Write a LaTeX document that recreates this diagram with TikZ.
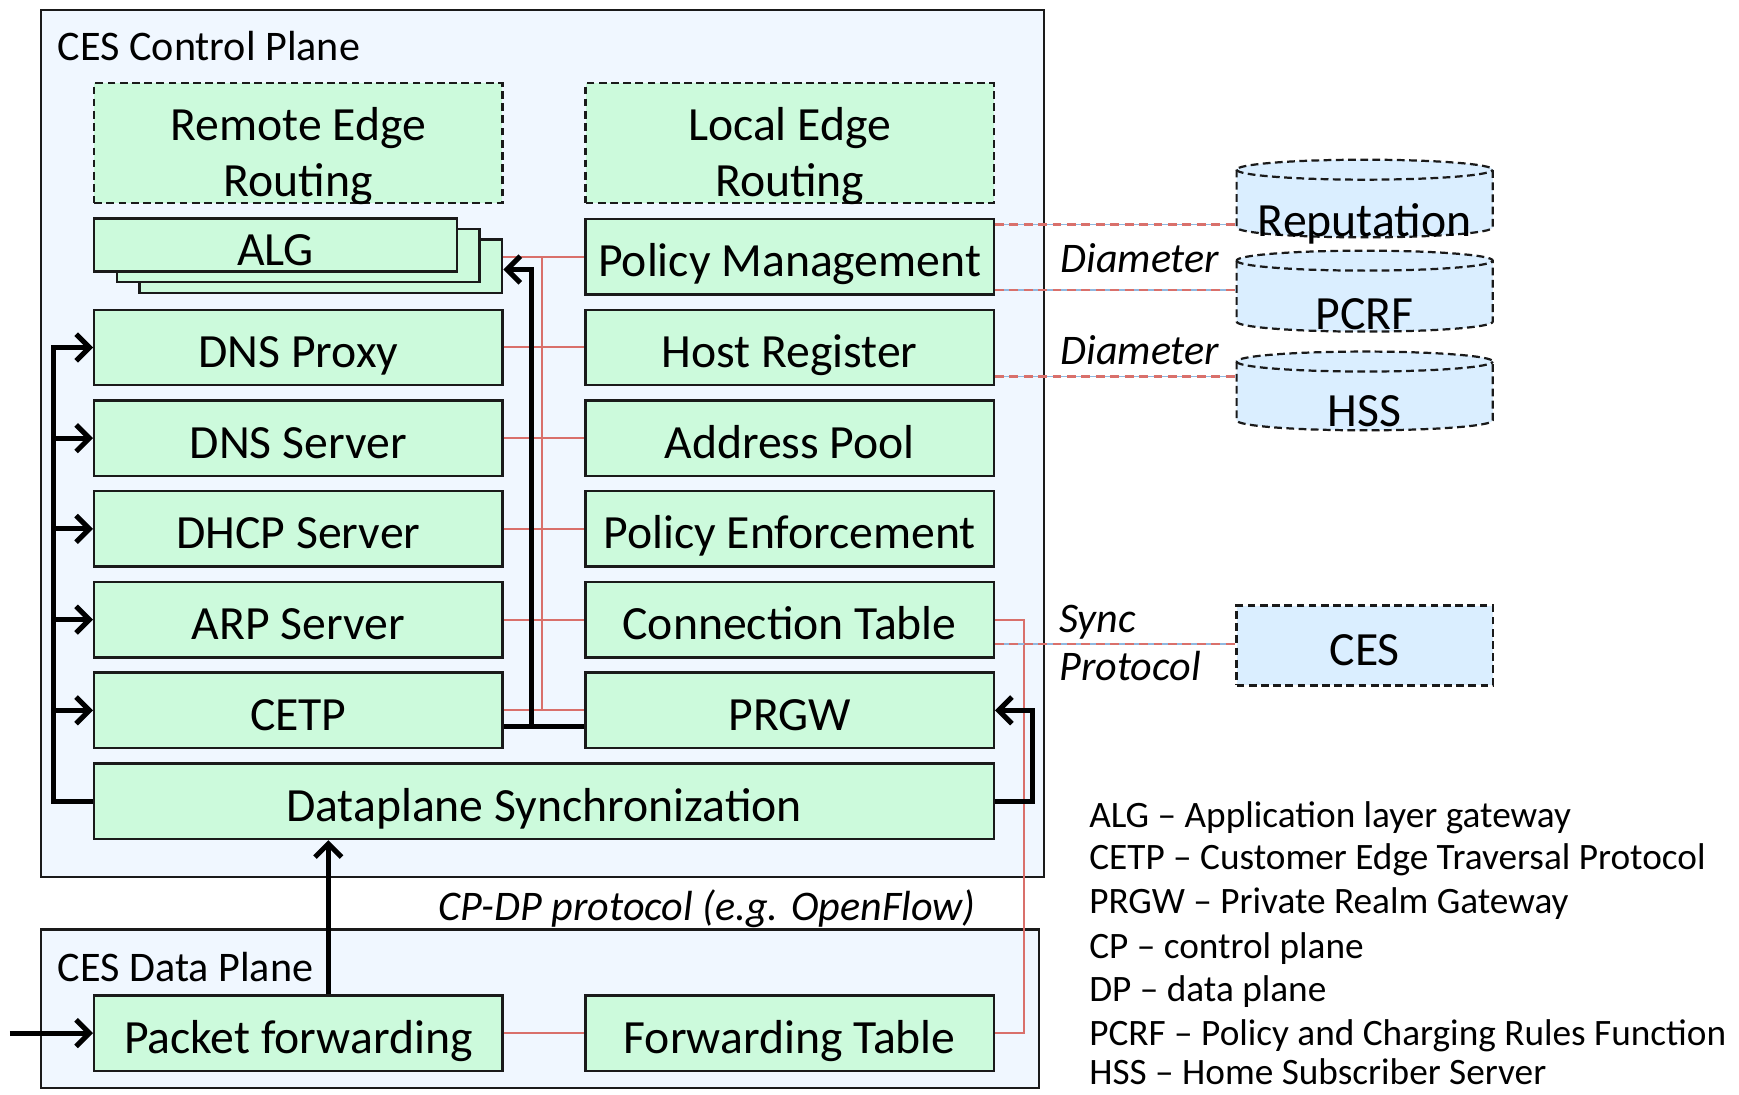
\documentclass[tikz,border=0pt]{standalone}
\usepackage{fontspec}
\setmainfont{Carlito}
\usetikzlibrary{arrows.meta,calc}
\definecolor{boxg}{HTML}{CCFADC}
\definecolor{planeb}{HTML}{F0F7FF}
\definecolor{cylb}{HTML}{DAEEFF}
\definecolor{redc}{HTML}{D9706B}
\definecolor{bluec}{HTML}{8FB8E0}
\definecolor{edgec}{HTML}{1A1A1A}
\tikzset{
 plane/.style={draw=edgec, line width=2pt, fill=planeb, inner sep=0pt},
 blkbox/.style={draw=edgec, line width=2.2pt, fill=boxg, minimum width=368pt, minimum height=68pt, inner sep=0pt, font=\fontsize{43}{50}\selectfont, text height=40pt, text depth=4pt},
 dbox/.style={draw=edgec, line width=2pt, dash pattern=on 7pt off 4pt, fill=boxg, minimum width=368pt, minimum height=108pt, inner sep=0pt},
 algbox/.style={blkbox, minimum width=327pt, minimum height=48pt},
 bigt/.style={font=\fontsize{43}{50}\selectfont, inner sep=0pt, anchor=base},
 labt/.style={font=\fontsize{38}{44}\selectfont, inner sep=0pt, anchor=base west},
 itt/.style={font=\fontsize{38}{44}\selectfont\itshape, inner sep=0pt},
 legt/.style={font=\fontsize{33.6}{40}\selectfont, inner sep=0pt, anchor=base west},
 redl/.style={draw=redc, line width=1.8pt},
 bl/.style={draw=black, line width=4.6pt},
 ext/.style={draw=redc, line width=2pt, dash pattern=on 8pt off 5pt, preaction={draw=bluec, solid, line width=1.4pt}},
 cylfill/.style={draw=edgec, line width=2pt, dash pattern=on 7pt off 4pt, fill=cylb},
 cylline/.style={draw=edgec, line width=2pt, dash pattern=on 7pt off 4pt},
 ghost/.style={inner sep=0pt, minimum width=231pt, minimum height=72pt},
 cesbox/.style={blkbox, fill=cylb, dash pattern=on 7pt off 4pt, minimum width=231pt, minimum height=72pt}
}
\newcommand\mycyl[3]{%
 \path[cylfill] (#1-115.5,#2) -- (#1-115.5,#3) arc[start angle=180,end angle=360,x radius=115.5pt,y radius=9pt] -- (#1+115.5,#2) arc[start angle=0,end angle=180,x radius=115.5pt,y radius=9pt] -- cycle;
 \draw[cylline] (#1-115.5,#2) arc[start angle=180,end angle=360,x radius=115.5pt,y radius=9pt];
}
\begin{document}
\begin{tikzpicture}[x=1pt,y=-1pt,>={Straight Barb[length=12pt,width=24pt]}]
\useasboundingbox (0,0) rectangle (1568,987);
% planes
\node[plane, minimum width=904pt, minimum height=782pt] (cp) at (489,400) {};
\node[plane, minimum width=900pt, minimum height=143pt] (dp) at (487,909.5) {};
\node[labt] (cpl) at (52,55) {CES Control Plane};
\node[labt] (dpl) at (52,885) {CES Data Plane};
% edge routing
\node[dbox] (rer) at (269,129) {};
\node[bigt] (rer1) at (269,127) {Remote Edge};
\node[bigt] (rer2) at (269,177) {Routing};
\node[dbox] (ler) at (712,129) {};
\node[bigt] (ler1) at (712,127) {Local Edge};
\node[bigt] (ler2) at (712,177) {Routing};
% ALG stack
\node[algbox] (alg3) at (289.25,240) {};
\node[algbox] (alg2) at (268.75,230.5) {};
\node[algbox] (alg) at (248.5,221) {ALG};
% columns
\node[blkbox] (pm) at (712,231.5) {Policy Management};
\node[blkbox] (dnsp) at (269,313.3) {DNS Proxy};
\node[blkbox] (hr) at (712,313.3) {Host Register};
\node[blkbox] (dnss) at (269,395.1) {DNS Server};
\node[blkbox] (ap) at (712,395.1) {Address Pool};
\node[blkbox] (dhcp) at (269,476.9) {DHCP Server};
\node[blkbox] (pe) at (712,476.9) {Policy Enforcement};
\node[blkbox] (arp) at (269,558.7) {ARP Server};
\node[blkbox] (ct) at (712,558.7) {Connection Table};
\node[blkbox] (cetp) at (269,640.5) {CETP};
\node[blkbox] (prgw) at (712,640.5) {PRGW};
\node[blkbox, minimum width=811pt] (dps) at (490.5,722.5) {Dataplane Synchronization};
\node[blkbox] (pf) at (269,931.5) {Packet forwarding};
\node[blkbox] (ft) at (712,931.5) {Forwarding Table};
% red connectors
\draw[redl] (pm.west -| alg3.east) -- (pm.west);
\foreach \a/\b in {dnsp/hr,dnss/ap,dhcp/pe,arp/ct,cetp/prgw} \draw[redl] (\a.east) -- (\b.west);
\coordinate (rt) at (489,231.5);
\coordinate (rb) at (489,640.5);
\draw[redl] (rt) -- (rb);
\draw[redl] (pf.east) -- (ft.west);
\draw[redl] (ct.east) -- ++(26,0) |- (ft.east);
% black connectors
\draw[bl] ($(cetp.east)+(0,14.5)$) -- ($(prgw.west)+(0,14.5)$);
\coordinate (jb) at (479,655);
\coordinate (ja) at (479,243);
\draw[bl,->] (jb) -- (ja) -- (ja -| alg3.east);
\draw[bl,->] (dps.west) -- ++(-36,0) |- (dnsp.west);
\coordinate (lbus) at (49,0);
\foreach \n in {dnss,dhcp,arp,cetp} \draw[bl,->] (\n.west -| lbus) -- (\n.west);
\draw[bl,->] (dps.east) -- ++(34,0) |- (prgw.east);
\coordinate (pfa) at ($(pf.north)+(27,0)$);
\draw[bl,->] (pfa) -- (pfa |- dps.south);
\draw[bl,->] ($(pf.west)+(-75,0)$) -- (pf.west);
% external entities
\node[ghost] (rep) at (1230.5,179) {};
\node[ghost] (pcrf) at (1230.5,262) {};
\node[ghost] (hss) at (1230.5,352) {};
\coordinate (e1) at ($(pm.north east)+(0,6)$);
\coordinate (e2) at ($(pm.south east)+(0,-5)$);
\coordinate (e3) at ($(hr.south east)+(0,-9)$);
\coordinate (e4) at ($(ct.east)+(0,22)$);
\mycyl{1230.5}{153}{205}
\mycyl{1230.5}{235}{290}
\mycyl{1230.5}{326}{379}
\node[bigt] (rept) at (1230.5,213) {Reputation};
\node[bigt] (pcrft) at (1230.5,297) {PCRF};
\node[bigt] (hsst) at (1230.5,385) {HSS};
\node[cesbox] (ces) at (1230.5,582) {CES};
\draw[ext] (e1) -- (e1 -| rep.west);
\draw[ext] (e2) -- (e2 -| pcrf.west);
\draw[ext] (e3) -- (e3 -| hss.west);
\draw[ext] (e4) -- (e4 -| ces.west);
% labels
\node[itt, anchor=base west] (d1) at (956,246) {Diameter};
\node[itt, anchor=base west] (d2) at (956,329) {Diameter};
\node[itt, anchor=base west] (s1) at (955,570) {Sync};
\node[itt, anchor=base west] (s2) at (955,614) {Protocol};
\node[itt, anchor=base east] (cpdp) at (880,830) {CP-DP protocol (e.g. OpenFlow)};
% legend
\node[legt] (l1) at (982,746) {ALG – Application layer gateway};
\node[legt] (l2) at (982,784) {CETP – Customer Edge Traversal Protocol};
\node[legt] (l3) at (982,824) {PRGW – Private Realm Gateway};
\node[legt] (l4) at (982,864) {CP – control plane};
\node[legt] (l5) at (982,903) {DP – data plane};
\node[legt] (l6) at (982,943) {PCRF – Policy and Charging Rules Function};
\node[legt] (l7) at (982,978) {HSS – Home Subscriber Server};
\end{tikzpicture}
\end{document}
